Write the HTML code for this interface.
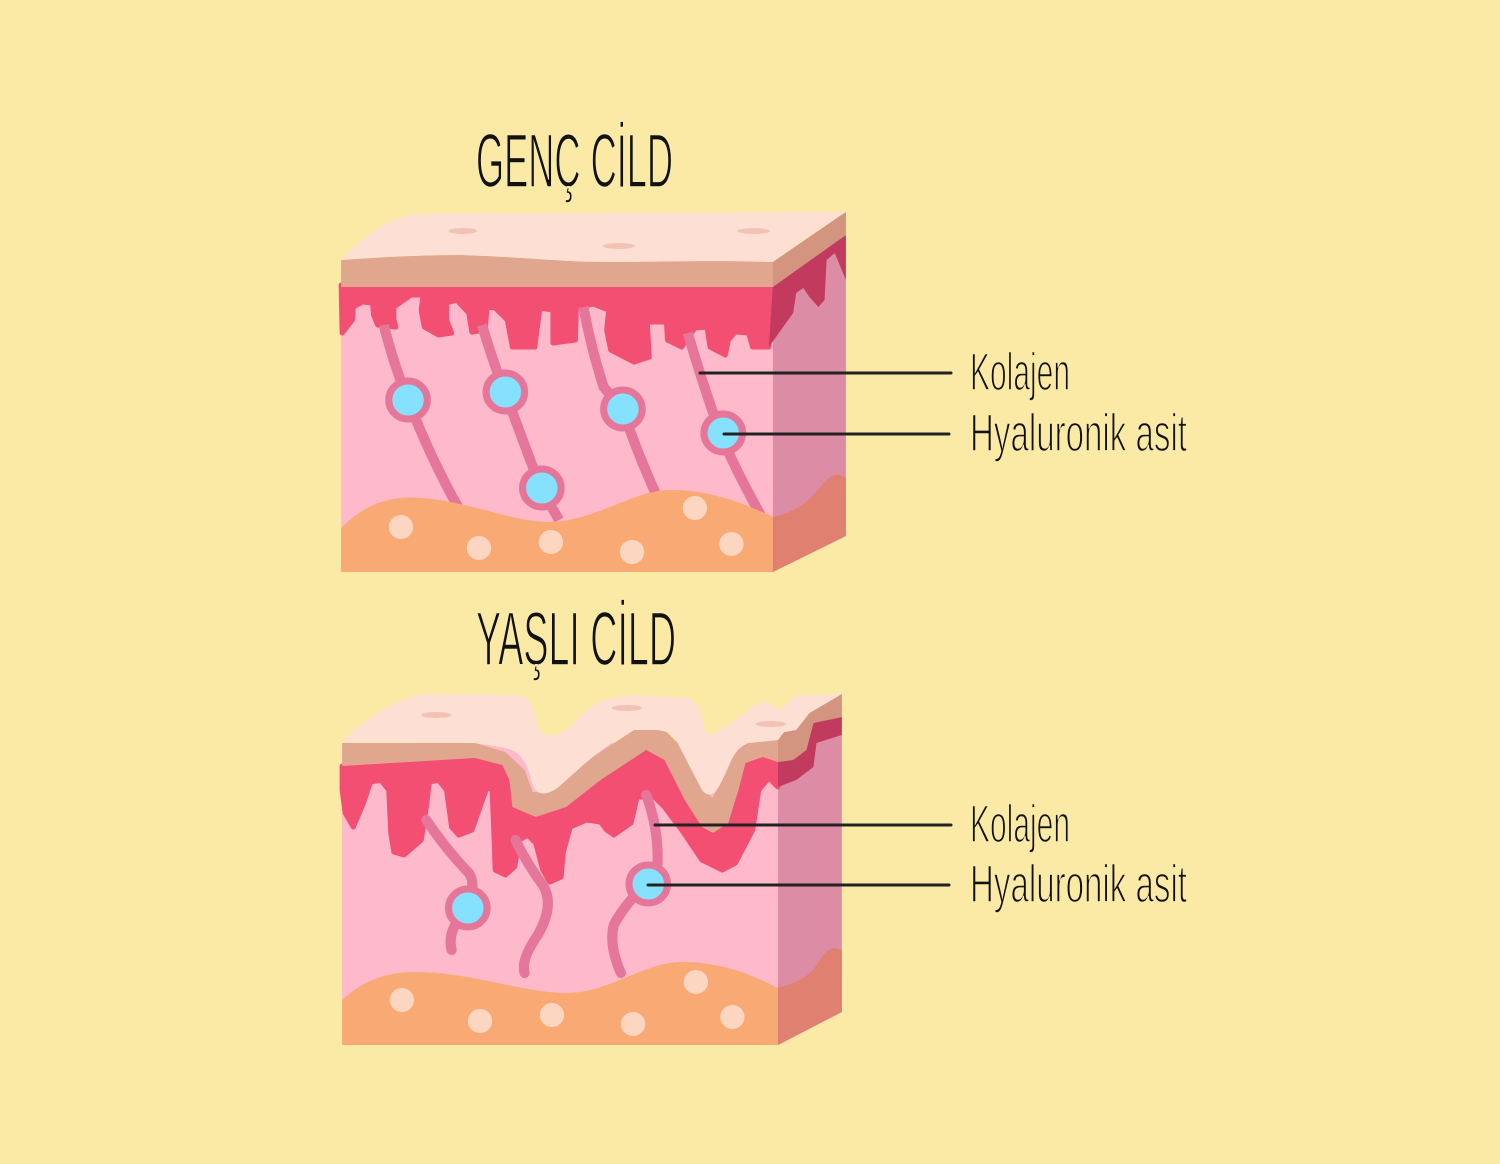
<!DOCTYPE html>
<html><head><meta charset="utf-8"><style>html,body{margin:0;padding:0;background:#FBEAA5}svg{display:block}</style></head>
<body>
<svg width="1500" height="1164" viewBox="0 0 1500 1164" xmlns="http://www.w3.org/2000/svg">
<rect width="1500" height="1164" fill="#FBEAA5"/>
<g font-family="Liberation Sans, sans-serif" fill="#111" stroke="#FBEAA5" stroke-width="1.6">
<text x="476" y="187" font-size="76" textLength="197" lengthAdjust="spacingAndGlyphs">GENÇ CİLD</text>
<text x="476" y="665" font-size="76" textLength="200" lengthAdjust="spacingAndGlyphs">YAŞLI CİLD</text>
<text x="970" y="390" font-size="53" textLength="100" lengthAdjust="spacingAndGlyphs">Kolajen</text>
<text x="970" y="451" font-size="53" textLength="217" lengthAdjust="spacingAndGlyphs">Hyaluronik asit</text>
<text x="970" y="842" font-size="53" textLength="100" lengthAdjust="spacingAndGlyphs">Kolajen</text>
<text x="970" y="902" font-size="53" textLength="217" lengthAdjust="spacingAndGlyphs">Hyaluronik asit</text>
</g>

<!-- TOP BLOCK -->
<g transform="translate(330,0) scale(1.0135,1) translate(-330,0)">
<rect x="341" y="260" width="427" height="312" fill="#FEB9CB"/>
<polygon points="767,262 839,212 839,536 767,572" fill="#DC8CA4"/>
<polygon fill="#F24F73" stroke="#F24F73" stroke-width="5" stroke-linejoin="round" points="341,285 767,285 763,347 747,347 743,333 730,332 723,340 720,355 705,347 702,327 690,328 677,347 663,340 662,322 643,322 645,357 630,362 607,350 603,330 605,310 590,304 573,308 572,340 550,343 550,310 537,308 532,347 510,347 505,320 493,308 485,307 483,330 470,332 467,313 455,300 445,303 445,320 450,333 437,335 423,327 420,310 422,295 410,295 393,307 393,320 395,327 377,325 373,315 372,303 362,302 353,307 352,320 342,333"/>
<polygon fill="#C23B5E" points="767,285 839,235 839,280 828,253 820,260 818,300 812,307 803,297 797,288 790,293 787,313 763,347"/>
<path d="M341,260 C380,257 420,255 460,255 C520,257 560,262 600,262 C660,262 700,260 767,262 L767,287 L341,287 Z" fill="#E0A68E"/>
<polygon points="767,262 839,212 839,235 767,287" fill="#D39580"/>
<path d="M341,260 C365,235 385,220 412,214 L839,212 Q800,236 767,262 C700,260 660,262 600,262 C560,262 520,257 460,255 C420,255 380,257 341,260 Z" fill="#FEDFD3"/>
<ellipse cx="461" cy="231" rx="14" ry="3" fill="#F2C2B4"/>
<ellipse cx="615" cy="246" rx="16" ry="3" fill="#F2C2B4"/>
<ellipse cx="748" cy="231" rx="16" ry="3" fill="#F2C2B4"/>
<g fill="none" stroke="#E67699" stroke-width="10">
<path d="M383,325 Q393,365 407,400 Q430,460 458,510"/>
<path d="M480,325 Q490,360 503,393 Q520,440 538,488 L556,520"/>
<path d="M580,307 Q588,350 600,387 L619,410 Q632,450 652,495"/>
<path d="M683,333 Q698,385 715,433 Q730,470 755,515"/>
</g>
<g fill="#85E1FD" stroke="#E67699" stroke-width="7">
<circle cx="407" cy="400" r="19"/>
<circle cx="503" cy="392" r="19"/>
<circle cx="539" cy="488" r="19"/>
<circle cx="619" cy="409" r="19"/>
<circle cx="718" cy="433" r="19"/>
</g>
<path d="M341,528 C370,498 400,496 420,498 C470,502 510,522 545,522 C590,522 630,490 665,490 C710,490 740,505 768,517 L768,572 L341,572 Z" fill="#F9AA74"/>
<path d="M767,517 C800,510 810,490 820,480 C828,472 835,475 839,478 L839,536 L767,572 Z" fill="#E08070"/>
<g fill="#FDD6C2">
<circle cx="400" cy="527" r="12"/><circle cx="477" cy="548" r="12"/><circle cx="548" cy="542" r="12"/>
<circle cx="628" cy="552" r="12"/><circle cx="690" cy="508" r="12"/><circle cx="726" cy="544" r="12"/>
</g>
</g>

<!-- BOTTOM BLOCK -->
<g transform="translate(330,0) scale(1.0135,1) translate(-330,0)">
<rect x="342" y="743" width="430" height="302" fill="#FEB9CB"/>
<polygon points="772,740 835,694 835,1012 772,1045" fill="#DC8CA4"/>
<polygon fill="#F24F73" stroke="#F24F73" stroke-width="5" stroke-linejoin="round" points="342,766 473,758 500,765 507,780 510,807 533,817 563,807 597,780 642,750 660,760 680,800 697,827 708,833 723,823 733,790 740,763 757,757 772,762 772,787 763,778 753,790 747,830 730,863 717,870 697,860 677,830 660,807 650,797 633,797 627,823 610,835 603,830 597,822 583,820 567,827 560,853 558,877 547,882 540,870 533,843 525,835 517,840 512,867 503,875 493,870 492,840 490,790 485,787 478,807 470,830 457,835 450,827 445,790 437,780 428,782 425,807 420,840 403,855 393,852 390,833 388,790 380,780 370,782 363,803 353,827 345,813 342,790"/>
<polygon fill="#C23B5E" points="772,762 787,760 800,750 807,723 835,717 835,735 810,743 807,767 790,780 772,787"/>
<polygon fill="#E0A68E" points="342,743 473,743 503,752 522,770 530,792 543,793 580,763 630,730 660,730 673,743 690,777 707,798 717,780 723,753 743,743 772,740 772,762 757,757 740,763 733,790 723,823 708,833 697,827 680,800 660,760 642,750 597,780 563,807 533,817 510,807 507,780 500,765 473,758 342,766"/>
<polygon fill="#D39580" points="772,740 778,732 790,730 803,713 835,694 835,717 807,723 800,750 787,760 772,762"/>
<path fill="#FEDFD3" d="M342,742 C355,728 380,705 420,694 L517,695 C528,697 532,710 535,727 C538,736 552,738 563,730 C575,720 585,705 600,700 L630,695 L683,698 C695,703 697,715 700,730 C702,735 708,735 712,732 L730,720 C740,712 750,703 757,702 C765,702 770,708 773,710 C780,705 786,697 793,695 L835,694 L803,713 L790,730 L778,732 L772,740 L743,743 C728,748 725,765 717,780 C712,792 705,800 697,790 L673,743 C668,733 660,730 650,730 L630,730 C600,745 580,765 560,783 C548,795 535,798 530,785 C525,765 520,752 503,748 L473,743 Z"/>
<ellipse cx="435" cy="715" rx="15" ry="3" fill="#F2C2B4"/>
<ellipse cx="623" cy="708" rx="15" ry="3" fill="#F2C2B4"/>
<ellipse cx="765" cy="724" rx="15" ry="3" fill="#F2C2B4"/>
<g fill="none" stroke="#E67699" stroke-width="10" stroke-linecap="round">
<path d="M425,820 Q445,850 467,873 Q475,885 465,909 Q445,930 450,950"/>
<path d="M513,840 Q525,865 540,885 Q552,905 535,935 Q518,960 522,973"/>
<path d="M642,795 Q655,830 653,867 L643,883 Q620,905 610,925 Q605,945 617,973"/>
</g>
<g fill="#85E1FD" stroke="#E67699" stroke-width="7">
<circle cx="466" cy="908" r="19"/>
<circle cx="644" cy="884" r="19"/>
</g>
<path d="M342,1000 C365,978 390,972 413,972 C470,972 520,993 563,993 C605,993 640,962 677,962 C720,962 750,977 772,988 L772,1045 L342,1045 Z" fill="#F9AA74"/>
<path d="M772,988 C790,983 800,978 808,968 C815,958 820,948 828,948 L835,950 L835,1012 L772,1045 Z" fill="#E08070"/>
<g fill="#FDD6C2">
<circle cx="401" cy="1000" r="12"/><circle cx="478" cy="1021" r="12"/><circle cx="549" cy="1015" r="12"/>
<circle cx="629" cy="1024" r="12"/><circle cx="691" cy="982" r="12"/><circle cx="727" cy="1017" r="12"/>
</g>
</g>

<g stroke="#222" stroke-width="3" stroke-linecap="round">
<line x1="700" y1="373" x2="951" y2="373"/>
<line x1="724" y1="434" x2="949" y2="434"/>
<line x1="655" y1="825" x2="951" y2="825"/>
<line x1="648" y1="885" x2="949" y2="885"/>
</g>
</svg>
</body></html>
